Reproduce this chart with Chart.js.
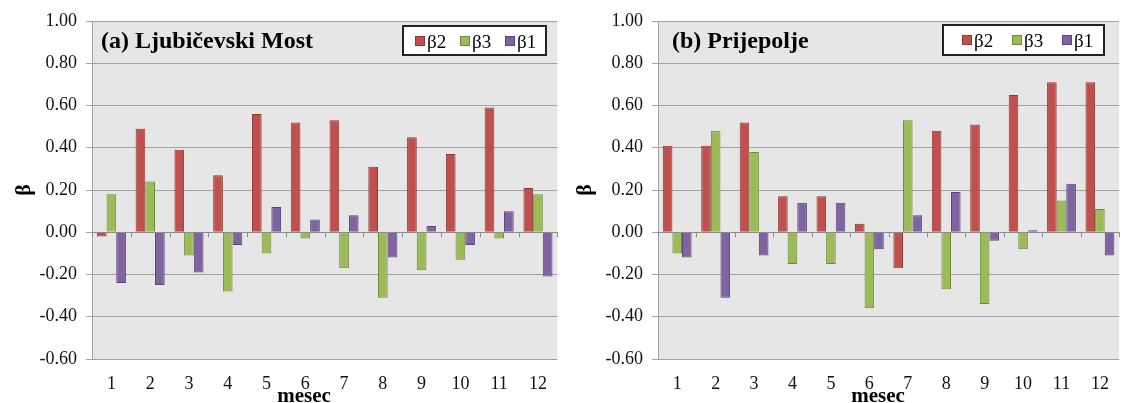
<!DOCTYPE html>
<html>
<head>
<meta charset="utf-8">
<script src="https://cdn.jsdelivr.net/npm/chart.js@4.4.0/dist/chart.umd.min.js"></script>
<style>
  body { margin: 0; background: #fff; }
  #wrap { position: relative; width: 1123px; height: 403px; overflow: hidden; }
  canvas { position: absolute; top: 0; }
  #left { left: 0; }
  #right { left: 561px; }
</style>
</head>
<body>
<div id="wrap">
  <canvas id="left" width="561" height="403"></canvas>
  <canvas id="right" width="562" height="403"></canvas>
</div>
<script>
// Données
const months = ['1', '2', '3', '4', '5', '6', '7', '8', '9', '10', '11', '12'];
const seriesNames = ['β2', 'β3', 'β1'];

const ljubB2 = [-0.02, 0.49, 0.39, 0.27, 0.56, 0.52, 0.53, 0.31, 0.45, 0.37, 0.59, 0.21];
const ljubB3 = [0.18, 0.24, -0.11, -0.28, -0.10, -0.03, -0.17, -0.31, -0.18, -0.13, -0.03, 0.18];
const ljubB1 = [-0.24, -0.25, -0.19, -0.06, 0.12, 0.06, 0.08, -0.12, 0.03, -0.06, 0.10, -0.21];

const prijB2 = [0.41, 0.41, 0.52, 0.17, 0.17, 0.04, -0.17, 0.48, 0.51, 0.65, 0.71, 0.71];
const prijB3 = [-0.10, 0.48, 0.38, -0.15, -0.15, -0.36, 0.53, -0.27, -0.34, -0.08, 0.15, 0.11];
const prijB1 = [-0.12, -0.31, -0.11, 0.14, 0.14, -0.08, 0.08, 0.19, -0.04, 0.01, 0.23, -0.11];

const yMin = -0.6;
const yMax = 1.0;
const yStep = 0.2;

const colors = [
  { fill: '#C0504D', edge: '#8C3A37' },
  { fill: '#9BBB59', edge: '#6F8A3C' },
  { fill: '#8064A2', edge: '#5B4577' }
];
const serif = '"Liberation Serif", "Times New Roman", serif';
const gridColor = '#A3A3A3';

// Fond gris, graduations sur l'axe zéro, titre du panneau et légende encadrée
const panelPlugin = {
  id: 'panel',
  beforeDraw(chart) {
    const a = chart.chartArea;
    const ctx = chart.ctx;
    ctx.save();
    ctx.fillStyle = '#E6E6E6';
    ctx.fillRect(a.left, a.top, a.right - a.left, a.bottom - a.top);
    ctx.restore();
  },
  beforeDatasetsDraw(chart) {
    const x = chart.scales.x;
    const y0 = chart.scales.y.getPixelForValue(0);
    const ctx = chart.ctx;
    ctx.save();
    ctx.strokeStyle = '#8C8C8C';
    ctx.lineWidth = 1;
    ctx.beginPath();
    ctx.moveTo(chart.chartArea.left, Math.round(y0) + 0.5);
    ctx.lineTo(chart.chartArea.right, Math.round(y0) + 0.5);
    for (let i = -1; i < months.length; i++) {
      const px = Math.round(x.getPixelForValue(i + 0.5)) + 0.5;
      ctx.moveTo(px, y0);
      ctx.lineTo(px, y0 + 5);
    }
    ctx.stroke();
    ctx.restore();
  },
  afterDraw(chart, args, opts) {
    const ctx = chart.ctx;
    ctx.save();

    // titre du panneau
    ctx.fillStyle = '#000';
    ctx.font = 'bold 24px ' + serif;
    ctx.textBaseline = 'alphabetic';
    ctx.textAlign = 'left';
    ctx.fillText(opts.title, opts.titleX, 48);

    // titre de l'axe x
    ctx.font = 'bold 21px ' + serif;
    ctx.textAlign = 'center';
    ctx.fillText('mesec', opts.xTitleX, 402);

    // légende
    const [bx0, by0, bx1, by1] = opts.legendBox;
    ctx.fillStyle = '#fff';
    ctx.fillRect(bx0, by0, bx1 - bx0, by1 - by0);
    ctx.strokeStyle = '#222';
    ctx.lineWidth = 2;
    ctx.strokeRect(bx0, by0, bx1 - bx0, by1 - by0);
    ctx.font = '19px ' + serif;
    ctx.textAlign = 'left';
    chart.data.datasets.forEach((ds, i) => {
      const sx = bx0 + opts.legendStart + i * opts.legendStep;
      ctx.fillStyle = ds.backgroundColor;
      ctx.fillRect(sx, by0 + 10, 10, 10);
      ctx.strokeStyle = ds.borderColor;
      ctx.lineWidth = 1;
      ctx.strokeRect(sx + 0.5, by0 + 10.5, 9, 9);
      ctx.fillStyle = '#000';
      ctx.fillText(ds.label, sx + 12, by0 + 22);
    });
    ctx.restore();
  }
};

function makeChart(canvasId, b2, b3, b1, opts) {
  const ctx = document.getElementById(canvasId).getContext('2d');
  const values = [b2, b3, b1];
  return new Chart(ctx, {
    type: 'bar',
    data: {
      labels: months,
      datasets: values.map((vals, i) => ({
        label: seriesNames[i],
        data: vals,
        backgroundColor: colors[i].fill,
        borderColor: colors[i].edge,
        borderWidth: 1,
        barPercentage: 1.0,
        categoryPercentage: 0.75
      }))
    },
    options: {
      responsive: false,
      animation: false,
      layout: { padding: { top: 21, left: 0, right: opts.padRight, bottom: 0 } },
      scales: {
        x: {
          grid: { display: false, drawTicks: false },
          border: { display: false },
          ticks: { font: { family: serif, size: 18 }, color: '#111', padding: 14 },
          afterFit(scale) { scale.height = 44; }
        },
        y: {
          min: yMin,
          max: yMax,
          ticks: {
            stepSize: yStep,
            font: { family: serif, size: 18 },
            color: '#111',
            padding: 9,
            callback: v => (Math.abs(v) < 1e-9 ? 0 : v).toFixed(2)
          },
          grid: { color: gridColor, tickLength: 6 },
          border: { color: gridColor },
          title: {
            display: true,
            text: 'β',
            color: '#000',
            font: { family: serif, size: 22, weight: 'bold' },
            padding: { top: 11, bottom: 0 }
          },
          afterFit(scale) { scale.width = opts.axisWidth; }
        }
      },
      plugins: {
        legend: { display: false },
        tooltip: { enabled: false },
        panel: opts.panel
      }
    },
    plugins: [panelPlugin]
  });
}

makeChart('left', ljubB2, ljubB3, ljubB1, {
  axisWidth: 92,
  padRight: 1,
  panel: {
    title: '(a) Ljubičevski Most',
    titleX: 101,
    xTitleX: 304,
    legendBox: [403, 26, 546, 55],
    legendStart: 12,
    legendStep: 45
  }
});

makeChart('right', prijB2, prijB3, prijB1, {
  axisWidth: 97,
  padRight: 2,
  panel: {
    title: '(b) Prijepolje',
    titleX: 111,
    xTitleX: 317,
    legendBox: [382, 25, 543, 55],
    legendStart: 19,
    legendStep: 50
  }
});
</script>
</body>
</html>
